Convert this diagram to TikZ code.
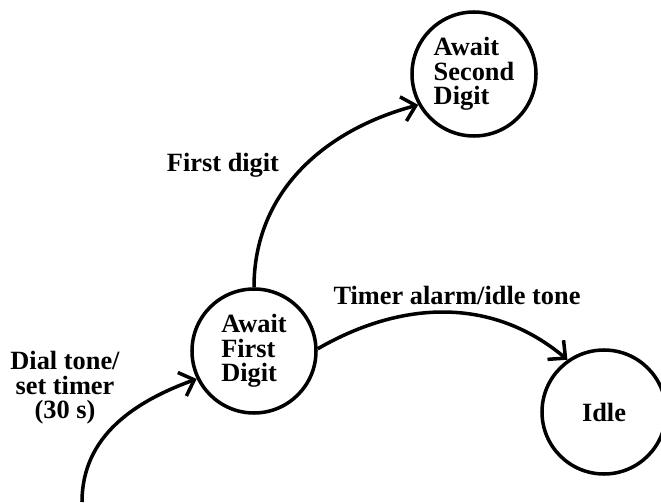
\documentclass[tikz,border=0pt]{standalone}
\usepackage{fontspec}
\setmainfont{Liberation Serif}
\usetikzlibrary{arrows.meta}
\tikzset{
  state/.style={circle,draw,line width=2pt,minimum size=2.48cm,inner sep=0pt,align=left,
    font=\fontsize{15}{14}\selectfont\bfseries},
  trans/.style={-{Straight Barb[length=2.6mm,width=5mm,line width=2pt]},line width=2pt},
  tlabel/.style={align=center,font=\fontsize{15}{14}\selectfont\bfseries}
}
\begin{document}
\begin{tikzpicture}
  \useasboundingbox (0,0) rectangle (13.22,10.04);

  % states
  \node[state] (first) at (5.08,3.02) {Await\\First\\Digit};
  \node[state] (second) at (9.48,8.56) {Await\\Second\\Digit};
  \node[state] (idle) at (12.08,1.80) {Idle};
  \coordinate (start) at (1.64,0);

  % transitions
  \draw[trans] (start) to[out=90,in=200] (first.206);
  \draw[trans] (first.north) to[out=90,in=195] (second.209);
  \draw[trans] (first.2) to[out=30,in=140] (idle.125);

  % labels
  \node[tlabel] (dial) at (1.30,2.28) {Dial tone/\\set timer\\(30 s)};
  \node[tlabel] (fdig) at (4.46,6.74) {First digit};
  \node[tlabel] (alarm) at (9.14,4.14) {Timer alarm/idle tone};
\end{tikzpicture}
\end{document}
